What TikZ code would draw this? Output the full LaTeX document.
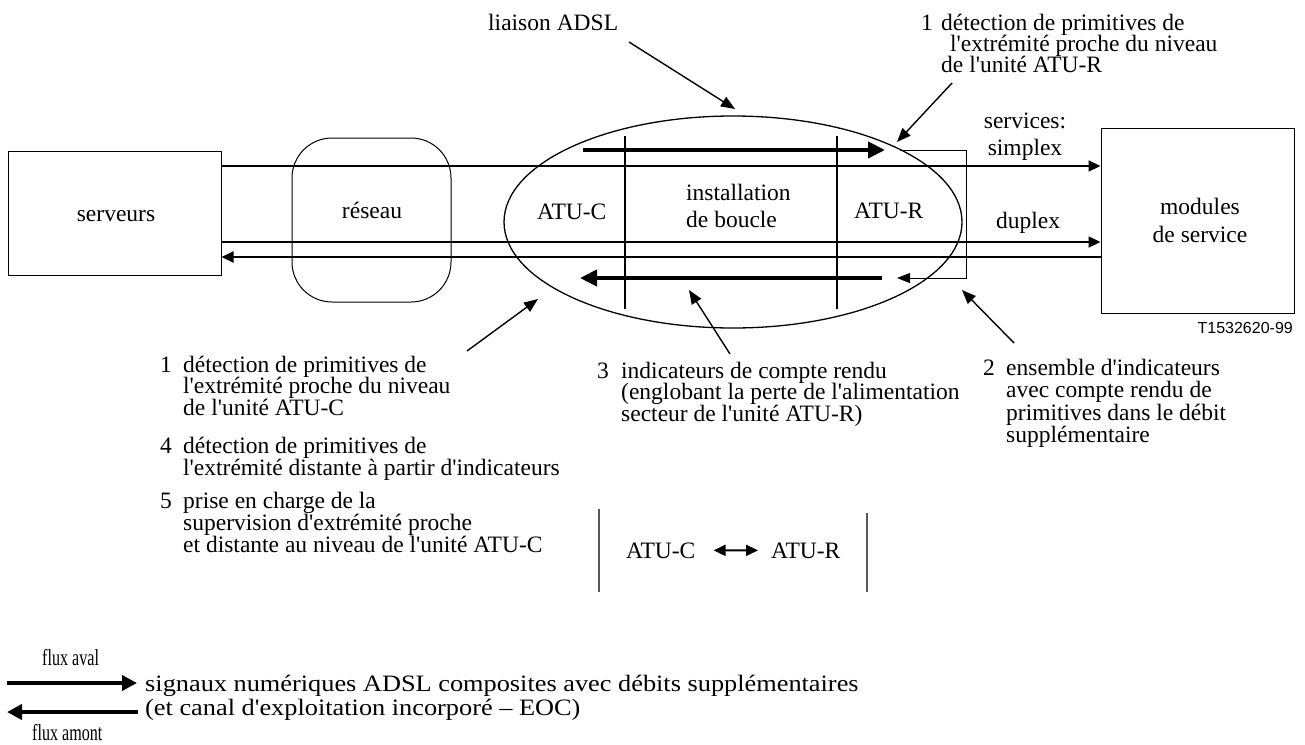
\documentclass[tikz,border=0pt]{standalone}
\usepackage{fontspec}
\setmainfont{Liberation Serif}[Ligatures=TeXOff]
\newfontfamily\labelsans{Liberation Sans}
\newfontfamily\widefont{Liberation Serif}[Ligatures=TeXOff, FakeStretch=1.12]
\newfontfamily\narrowfont{Liberation Serif}[Ligatures=TeXOff, FakeStretch=0.7]
\usetikzlibrary{shapes.geometric,arrows.meta}

\newcommand\bodyfont{\fontsize{23.5}{21.5}\selectfont}
% stacked lines with a fixed baseline distance; the baseline of the box is the first line
\newcommand\textlines[2][21.5pt]{\vtop{\lineskiplimit=-100pt\relax\baselineskip=#1\relax
  \halign{##\hfil\cr#2\crcr}}}
\newcommand\textlinesc[2][21.5pt]{\vtop{\lineskiplimit=-100pt\relax\baselineskip=#1\relax
  \halign{\hfil##\hfil\cr#2\crcr}}}

\tikzset{
  box/.style={draw, line width=1pt, inner sep=0},
  txt/.style={inner sep=0, font=\bodyfont},
  link/.style={line width=2pt},
  linktip/.style={link, -{Triangle[length=12pt,width=11pt]}},
  flow/.style={line width=4pt, -{Triangle[length=17pt,width=16pt]}},
  pointer/.style={line width=1.4pt, -{Triangle[length=14pt,width=11pt]}},
  sepline/.style={line width=1.5pt, black!65},
  smalltxt/.style={inner sep=0, font=\narrowfont\fontsize{23}{24}\selectfont},
  keytxt/.style={inner sep=0, font=\widefont\fontsize{23.5}{24}\selectfont},
}

\begin{document}
\begin{tikzpicture}[x=1pt,y=-1pt]
\useasboundingbox (0,0) rectangle (1305,744);

% ---- main blocks
\node[box, minimum width=213pt, minimum height=124pt] (serveurs) at (114.5,213) {};
\node[txt, anchor=base] (serveurs-label) at (116,221) {serveurs};

\node[box, rounded corners=40pt, minimum width=159pt, minimum height=164pt] (reseau) at (371.5,220) {};
\node[txt, anchor=base] (reseau-label) at (372,218) {réseau};

\node[box, minimum width=193pt, minimum height=185pt] (modules) at (1197.5,220.5) {};
\node[txt, anchor=base] (modules-label) at (1200,214) {\textlinesc[28pt]{modules\cr de service}};
\node[anchor=base east, inner sep=0, font=\labelsans\fontsize{16}{18}\selectfont] (figref) at (1293,333) {T1532620-99};

% ---- ADSL link
\node[draw, ellipse, line width=1.3pt, minimum width=458pt, minimum height=212pt, inner sep=0] (adsllink) at (733,222) {};
\draw[link] (625,136) -- (625,309);
\draw[link] (837,136) -- (837,309);
\node[txt, anchor=base west] (atuc) at (537,219) {ATU-C};
\node[txt, anchor=base west] (loop) at (686,200) {\textlines[27pt]{installation\cr de boucle}};
\node[txt, anchor=base west] (atur) at (854,218) {ATU-R};

% ---- service lines
\coordinate (ysimplex) at (0,166);
\coordinate (yduplexdn) at (0,242);
\coordinate (yduplexup) at (0,257);
\draw[linktip] (serveurs.east |- ysimplex) -- (modules.west |- ysimplex);
\draw[linktip] (serveurs.east |- yduplexdn) -- (modules.west |- yduplexdn);
\draw[linktip] (modules.west |- yduplexup) -- (serveurs.east |- yduplexup);
\node[txt, anchor=base] (services) at (1025,128) {\textlinesc[27pt]{services:\cr simplex}};
\node[txt, anchor=base] (duplex) at (1028,228) {duplex};

% ---- downstream / upstream flows through the loop
\coordinate (dn-a) at (583,150);
\coordinate (dn-b) at (885,150);
\coordinate (up-a) at (882,278);
\coordinate (up-b) at (580,278);
\draw[flow] (dn-a) -- (dn-b);
\draw[flow] (up-a) -- (up-b);

% ATU-R loop-back
\coordinate (rb-1) at (900,150);
\coordinate (rb-2) at (966,150);
\coordinate (rb-3) at (966,278);
\coordinate (rb-4) at (897,278);
\draw[line width=1pt, -{Triangle[length=13pt,width=10pt]}] (rb-1) -- (rb-2) -- (rb-3) -- (rb-4);

% ---- annotations
\node[txt, anchor=base west] (adsl) at (488,30) {liaison ADSL};
\coordinate (adsl-from) at (629,42);
\coordinate (adsl-to) at (735,109);
\draw[pointer] (adsl-from) -- (adsl-to);

\node[txt, anchor=base west] (n1r) at (921,30) {1};
\node[txt, anchor=base west] (ann1r) at (941,30)
  {\textlines[21pt]{détection de primitives de\cr\hskip9pt l'extrémité proche du niveau\cr de l'unité ATU-R}};
\coordinate (ann1r-from) at (952,83);
\coordinate (ann1r-to) at (897,142);
\draw[pointer] (ann1r-from) -- (ann1r-to);

\node[txt, anchor=base west] (n1c) at (160,372) {1};
\node[txt, anchor=base west] (ann1c) at (183,372)
  {\textlines[21.5pt]{détection de primitives de\cr l'extrémité proche du niveau\cr de l'unité ATU-C}};
\coordinate (ann1c-from) at (467,351);
\coordinate (ann1c-to) at (538,299);
\draw[pointer] (ann1c-from) -- (ann1c-to);

\node[txt, anchor=base west] (n4) at (160,453) {4};
\node[txt, anchor=base west] (ann4) at (183,453)
  {\textlines[22pt]{détection de primitives de\cr l'extrémité distante à partir d'indicateurs}};

\node[txt, anchor=base west] (n5) at (160,508) {5};
\node[txt, anchor=base west] (ann5) at (183,508)
  {\textlines[22pt]{prise en charge de la\cr supervision d'extrémité proche\cr et distante au niveau de l'unité ATU-C}};

\node[txt, anchor=base west] (n3) at (597,378) {3};
\node[txt, anchor=base west] (ann3) at (621,378)
  {\textlines[21.5pt]{indicateurs de compte rendu\cr (englobant la perte de l'alimentation\cr secteur de l'unité ATU-R)}};
\coordinate (ann3-from) at (730,354);
\coordinate (ann3-to) at (689,290);
\draw[pointer] (ann3-from) -- (ann3-to);

\node[txt, anchor=base west] (n2) at (983,375) {2};
\node[txt, anchor=base west] (ann2) at (1006,375)
  {\textlines[22.5pt]{ensemble d'indicateurs\cr avec compte rendu de\cr primitives dans le débit\cr supplémentaire}};
\coordinate (ann2-from) at (1014,343);
\coordinate (ann2-to) at (962,290);
\draw[pointer] (ann2-from) -- (ann2-to);

% ---- ATU-C <-> ATU-R
\draw[sepline] (599,509) -- (599,592);
\draw[sepline] (867,513) -- (867,592);
\node[txt, anchor=base west] (lc) at (626,558) {ATU-C};
\node[txt, anchor=base west] (lr) at (771,558) {ATU-R};
\draw[line width=2pt, {Triangle[length=12pt,width=11pt]}-{Triangle[length=12pt,width=11pt]}]
  ([xshift=18pt]lc.east) -- ([xshift=-13pt]lr.west);

% ---- key
\node[smalltxt, anchor=base west] (aval) at (42,665) {flux aval};
\node[smalltxt, anchor=base west] (amont) at (32,740) {flux amont};
\coordinate (av-a) at (7,683);
\coordinate (av-b) at (137,683);
\coordinate (am-a) at (138,712);
\coordinate (am-b) at (7,712);
\draw[line width=4pt, -{Triangle[length=15pt,width=15pt]}] (av-a) -- (av-b);
\draw[line width=4pt, -{Triangle[length=15pt,width=15pt]}] (am-a) -- (am-b);
\node[keytxt, anchor=base west] (keytext) at (145,691)
  {\textlines[24pt]{signaux numériques ADSL composites avec débits supplémentaires\cr (et canal d'exploitation incorporé – EOC)}};
\end{tikzpicture}
\end{document}
